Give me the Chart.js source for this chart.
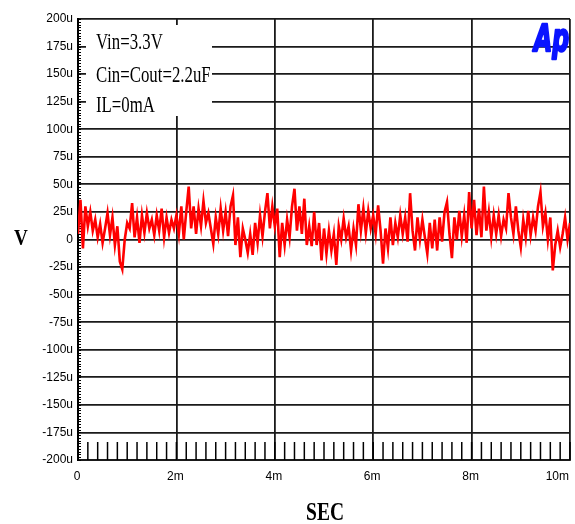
<!DOCTYPE html>
<html><head><meta charset="utf-8">
<script src="https://cdn.jsdelivr.net/npm/chart.js@4"></script>
<style>html,body{margin:0;padding:0;background:#fff}#wrap{width:575px;height:524px}</style>
</head><body><div id="wrap"><canvas id="c" width="575" height="524"></canvas></div>
<script>
// ---- data ----
const sampleStepMs = 0.05;           // time between samples, ms
const noiseUV = [                    // output noise, microvolts
  5, 36, -8, 30, 12, 25, 8, 18, 2, 14,
  -3, 10, 24, 4, 20, -5, 12, -20, -27, 0,
  15, 10, 33, 2, 20, -3, 22, 6, 24, 10,
  18, 4, 22, 8, 28, 2, 20, 6, 18, 10,
  22, 5, 30, 0, 25, 48, 10, 30, 5, 28,
  12, 35, 15, 24, 10, -4, 20, 5, 28, 8,
  25, 3, 30, 40, -5, 20, -16, 10, 0, -12,
  5, -14, 15, -3, 22, 3, 25, 42, 10, 30,
  12, 28, -16, 15, -5, 18, 2, 30, 46, 8,
  30, 5, 37, -5, 12, -6, 25, -5, 15, -19,
  10, -13, 8, -10, 5, -23, 12, 0, 19, 2,
  12, -10, 10, -5, 32, 8, 28, 6, 26, 10,
  22, 5, 31, 8, -22, 10, -8, 20, -5, 15,
  2, 22, 5, 20, -2, 42, 8, -10, 20, 0,
  18, 2, -13, 15, -8, 18, -10, 20, -2, 25,
  34, 5, -17, 20, 0, 26, 3, 22, -3, 43,
  10, 36, 4, 28, 2, 48, 8, 25, 2, 22,
  5, 22, 3, 18, 10, 42, 20, 5, 30, 8,
  -7, 18, 2, 26, 4, 20, 8, 30, 43, 12,
  24, 0, 20, -28, -5, 8, -7, 5, 20, 0, 15
];
const xTickValues = [0, 2, 4, 6, 8, 10];
const xTickLabels = ['0', '2m', '4m', '6m', '8m', '10m'];
const yMin = -200, yMax = 200, yStep = 25;
const notes = ['Vin=3.3V', 'Cin=Cout=2.2uF', 'IL=0mA'];
const yTitle = 'V', xTitle = 'SEC', logo = 'Ap';

const points = noiseUV.map((v, i) => ({ x: i * sampleStepMs, y: v }));

function condText(ctx, txt, x, y, font, sx, align, color, stroke) {
  ctx.save();
  ctx.translate(x, y);
  ctx.scale(sx, 1);
  ctx.font = font;
  ctx.textAlign = align;
  ctx.textBaseline = 'alphabetic';
  ctx.fillStyle = color || '#000';
  ctx.fillText(txt, 0, 0);
  if (stroke) {
    ctx.strokeStyle = color || '#000';
    ctx.lineWidth = stroke;
    ctx.lineJoin = 'round';
    ctx.strokeText(txt, 0, 0);
  }
  ctx.restore();
}

const deco = {
  id: 'deco',
  beforeDatasetsDraw(chart) {
    const { ctx, chartArea: a, scales: { x, y } } = chart;
    ctx.save();
    // legend box covering grid
    ctx.fillStyle = '#fff';
    ctx.fillRect(86, a.top + 6, 126, 116 - (a.top + 6));
    // minor y ticks
    ctx.strokeStyle = '#000';
    ctx.lineWidth = 1;
    for (let v = yMin; v <= yMax + 0.001; v += 2.5) {
      const py = Math.round(y.getPixelForValue(v)) + 0.5;
      ctx.beginPath(); ctx.moveTo(a.left - 1, py); ctx.lineTo(a.left + 3, py); ctx.stroke();
    }
    // minor x ticks
    ctx.lineWidth = 1.5;
    for (let k = 0; k <= 50; k++) {
      const px = x.getPixelForValue(k * 0.2);
      ctx.beginPath(); ctx.moveTo(px, a.bottom); ctx.lineTo(px, a.bottom - 18); ctx.stroke();
    }
    ctx.restore();
  },
  afterDraw(chart) {
    const { ctx, scales: { x } } = chart;
    const baselines = [49, 82, 112];
    notes.forEach((t, i) => condText(ctx, t, 96, baselines[i], '24px "Liberation Serif"', 0.7, 'left'));
    condText(ctx, logo, 534, 51, 'bold italic 38px "DejaVu Sans"', 0.62, 'left', '#0a14ff', 2.5);
    xTickValues.forEach((v, i) => {
      const px = x.getPixelForValue(v);
      const last = i === xTickValues.length - 1;
      condText(ctx, xTickLabels[i], px - 1, 480, '12px "Liberation Sans"', 1, last ? 'right' : 'center');
    });
    condText(ctx, yTitle, 21, 245, 'bold 24px "Liberation Serif"', 0.8, 'center');
    condText(ctx, xTitle, 325, 520, 'bold 25px "Liberation Serif"', 0.78, 'center');
  }
};

new Chart(document.getElementById('c'), {
  type: 'line',
  data: {
    datasets: [{
      data: points,
      borderColor: '#ff0000',
      borderWidth: 2.6,
      pointRadius: 0,
      tension: 0,
      fill: false
    }]
  },
  options: {
    responsive: false,
    animation: false,
    devicePixelRatio: 1,
    layout: { padding: { left: 0, top: 19, right: 5, bottom: 0 } },
    plugins: { legend: { display: false }, tooltip: { enabled: false } },
    scales: {
      x: {
        type: 'linear', min: 0, max: 10,
        ticks: { stepSize: 2, display: false },
        grid: { color: '#1a1a1a', lineWidth: 1.8, drawTicks: false },
        border: { color: '#1a1a1a', width: 2 },
        afterFit(s) { s.height = 64; }
      },
      y: {
        min: yMin, max: yMax,
        ticks: {
          stepSize: yStep, padding: 5, color: '#000',
          font: { family: '"Liberation Sans"', size: 12 },
          callback: v => v === 0 ? '0' : v + 'u'
        },
        grid: { color: '#1a1a1a', lineWidth: 1.8, drawTicks: false },
        border: { color: '#000', width: 2 },
        afterFit(s) { s.width = 78; }
      }
    }
  },
  plugins: [deco]
});
</script>
</body></html>
